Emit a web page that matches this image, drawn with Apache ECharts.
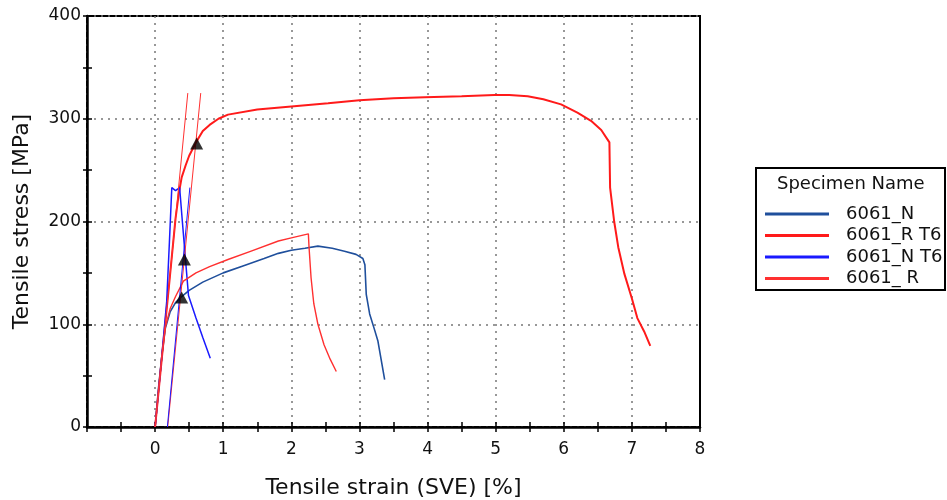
<!DOCTYPE html>
<html>
<head>
<meta charset="utf-8">
<title>Tensile test</title>
<script src="https://cdn.jsdelivr.net/npm/echarts@6/dist/echarts.min.js"></script>
<style>
  html, body { margin: 0; padding: 0; background: #fff; }
  #chart { width: 947px; height: 500px; }
</style>
</head>
<body>
<div id="chart"></div>
<script>
// curves: [strain %, stress MPa]
var specimenNames = ['6061_N', '6061_R T6', '6061_N T6', '6061_ R'];
var n6061 = [[0,0],[0.05,38],[0.1,70],[0.15,96],[0.22,112],[0.3,121],[0.39,127],[0.5,133],[0.7,141],[1.0,150],[1.3,157],[1.6,164],[1.81,169],[2.0,172],[2.2,174],[2.39,176],[2.6,174],[2.78,171],[2.95,168],[3.05,164],[3.08,158],[3.10,129],[3.15,110],[3.22,95],[3.27,84],[3.32,65],[3.37,46]];
var rT6 = [[0,0],[0.1,68],[0.2,135],[0.3,203],[0.35,228],[0.39,243],[0.45,255],[0.5,264],[0.6,277],[0.7,288],[0.8,294],[0.93,300],[1.07,304],[1.5,309],[2.0,312],[2.54,315],[3.0,318],[3.5,320],[3.96,321],[4.5,322],[4.98,323],[5.2,323],[5.47,322],[5.7,319],[5.96,314],[6.2,306],[6.4,298],[6.55,289],[6.67,277],[6.68,233],[6.74,200],[6.8,175],[6.89,149],[7.0,125],[7.08,106],[7.18,93],[7.27,79]];
var nT6 = [[0,0],[0.1,70],[0.17,122],[0.21,180],[0.245,233],[0.3,230],[0.36,233],[0.40,200],[0.44,168],[0.49,128],[0.6,106],[0.7,87],[0.81,67]];
var rPlain = [[0,0],[0.06,42],[0.1,70],[0.15,97],[0.22,115],[0.3,127],[0.415,142],[0.6,150],[0.8,156],[1.07,163],[1.4,171],[1.81,181],[2.0,184],[2.25,188],[2.26,175],[2.29,145],[2.33,120],[2.39,100],[2.48,80],[2.57,66],[2.66,54]];
// modulus / offset lines
var redModulus = [[0,0],[0.48,325]];
var redOffset = [[0.185,0],[0.67,325]];
var blueOffset = [[0.18,0],[0.51,233]];
// Rp0.2 markers
var yieldPts = [[0.61,276],[0.43,163],[0.39,126]];

var xTicks = { min: -1, max: 8, step: 1 };
var yTicks = { min: 0, max: 400, step: 100 };

var font = 'DejaVu Sans';
var myChart = echarts.init(document.getElementById('chart'));

function curve(name, data, color, width) {
    return {
        name: name,
        type: 'line',
        data: data,
        symbol: 'none',
        lineStyle: { color: color, width: width },
        itemStyle: { color: color },
        silent: true
    };
}

var tickStyle = { color: '#000', width: 1.5 };

var option = {
    animation: false,
    grid: {
        left: 87, right: 247, top: 16, bottom: 73,
        outerBoundsMode: 'none',
        show: true, borderColor: '#000', borderWidth: 2
    },
    xAxis: [{
        type: 'value',
        min: xTicks.min, max: xTicks.max, interval: xTicks.step,
        position: 'bottom',
        name: 'Tensile strain (SVE) [%]',
        nameLocation: 'middle',
        nameGap: 50,
        nameTextStyle: { fontFamily: font, fontSize: 22, color: '#111' },
        axisLine: { onZero: false, lineStyle: { color: '#000', width: 2.5 } },
        axisTick: { inside: false, length: 5, lineStyle: tickStyle },
        minorTick: { show: true, splitNumber: 2, length: 5, lineStyle: tickStyle },
        axisLabel: {
            fontFamily: font, fontSize: 17, color: '#111', margin: 14,
            formatter: function (v) { return v < 0 ? '' : v; }
        },
        splitLine: { show: true, lineStyle: { color: '#777', type: [2, 5], width: 1.5 } }
    }, {
        type: 'value',
        min: xTicks.min, max: xTicks.max, interval: 0.5,
        position: 'bottom',
        axisLine: { show: false, onZero: false },
        axisTick: { inside: true, length: 5, lineStyle: tickStyle },
        axisLabel: { show: false },
        splitLine: { show: false }
    }],
    yAxis: [{
        type: 'value',
        min: yTicks.min, max: yTicks.max, interval: yTicks.step,
        position: 'left',
        name: 'Tensile stress [MPa]',
        nameLocation: 'middle',
        nameGap: 54,
        nameTextStyle: { fontFamily: font, fontSize: 22, color: '#111' },
        axisLine: { show: true, onZero: false, lineStyle: { color: '#000', width: 2.5 } },
        axisTick: { show: true, inside: false, length: 4, lineStyle: tickStyle },
        minorTick: { show: true, splitNumber: 2, length: 4, lineStyle: tickStyle },
        axisLabel: { fontFamily: font, fontSize: 17, color: '#111', margin: 6 },
        splitLine: { show: true, lineStyle: { color: '#777', type: [2, 5], width: 1.5 } }
    }, {
        type: 'value',
        min: yTicks.min, max: yTicks.max, interval: 50,
        position: 'left',
        axisLine: { show: false, onZero: false },
        axisTick: { show: true, inside: true, length: 5, lineStyle: tickStyle },
        axisLabel: { show: false },
        splitLine: { show: false }
    }, {
        type: 'value',
        min: yTicks.min, max: yTicks.max, interval: yTicks.step,
        position: 'right',
        axisLine: { show: true, onZero: false, lineStyle: { color: '#000', width: 2 } },
        axisTick: { show: false },
        axisLabel: { show: false },
        splitLine: { show: false }
    }],
    legend: {
        data: specimenNames,
        orient: 'vertical',
        left: 760,
        top: 200,
        icon: 'rect',
        itemWidth: 64,
        itemHeight: 3,
        itemGap: 3.5,
        textStyle: { fontFamily: font, fontSize: 18, color: '#111', lineHeight: 18, padding: [0, 0, 0, 12] },
        selectedMode: false
    },
    graphic: [{
        type: 'rect',
        shape: { x: 756, y: 168, width: 189, height: 122 },
        style: { fill: 'none', stroke: '#000', lineWidth: 2 }
    }, {
        type: 'text',
        left: 777,
        top: 175,
        style: { text: 'Specimen Name', font: '18px "DejaVu Sans"', fill: '#111' }
    }],
    series: [
        curve('6061_N', n6061, '#1f4f9c', 1.6),
        curve('6061_R T6', rT6, '#ff1a1a', 2),
        curve('6061_N T6', nT6, '#1a1aff', 1.5),
        curve('6061_ R', rPlain, '#ff3030', 1.4),
        curve('mod1', redModulus, '#ff3030', 1),
        curve('mod2', redOffset, '#ff3030', 1),
        curve('mod3', blueOffset, '#1a1aff', 1),
        {
            name: 'Rp0.2',
            type: 'scatter',
            data: yieldPts,
            symbol: 'triangle',
            symbolSize: [13, 12],
            itemStyle: { color: '#000' },
            z: 5,
            silent: true
        }
    ]
};

myChart.setOption(option);
</script>
</body>
</html>
